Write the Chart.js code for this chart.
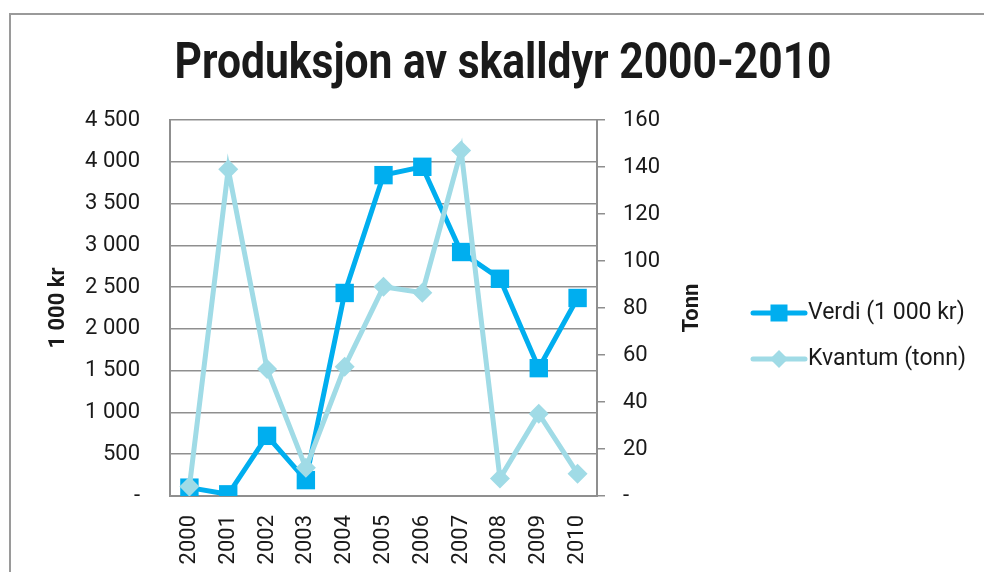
<!DOCTYPE html>
<html>
<head>
<meta charset="utf-8">
<script src="https://cdn.jsdelivr.net/npm/chart.js@4/dist/chart.umd.min.js"></script>
<style>
    html, body { margin: 0; padding: 0; background: #fff; overflow: hidden; }
    .frame { position: absolute; left: 9px; top: 13px; width: 1000px; height: 600px;
             border-left: 2px solid #9a9a9a; border-top: 2px solid #9a9a9a; }
    #wrap { position: absolute; left: 0; top: 0; width: 984px; height: 572px; }
</style>
</head>
<body>
<div class="frame"></div>
<div id="wrap"><canvas id="skalldyrChart" width="984" height="572"></canvas></div>
<script>
// =========================
// Produksjon av skalldyr
// =========================

// ========== DATA ==========
const years = ['2000', '2001', '2002', '2003', '2004', '2005', '2006', '2007', '2008', '2009', '2010'];
const verdi = [100, 20, 720, 190, 2430, 3840, 3940, 2920, 2600, 1530, 2370];
const kvantum = [4, 139, 54, 12, 55, 89, 86.5, 147, 7.5, 35, 9.5];
const verdiTicks = [0, 500, 1000, 1500, 2000, 2500, 3000, 3500, 4000, 4500];
const tonnTicks = [0, 20, 40, 60, 80, 100, 120, 140, 160];

const titleText = 'Produksjon av skalldyr 2000-2010';
const legendLabels = ['Verdi (1 000 kr)', 'Kvantum (tonn)'];

const blue = '#00aeef';
const lightBlue = '#a0dbe6';
const gridGray = '#8f8f8f';
const textColor = '#1a1a1a';
const fontFamily = 'Roboto, "DejaVu Sans", sans-serif';

function formatThousands(v) {
    if (v === 0) return '-';
    return String(v).replace(/\B(?=(\d{3})+(?!\d))/g, ' ');
}

// ========== EXTRA DRAWING (title, axis titles, legend) ==========
const decorPlugin = {
    id: 'decor',
    afterDraw(chart) {
        const ctx = chart.ctx;
        ctx.save();
        ctx.fillStyle = textColor;

        // title, squeezed a bit to look like the condensed original
        ctx.font = 'bold 50px ' + fontFamily;
        ctx.textBaseline = 'alphabetic';
        ctx.textAlign = 'left';
        const w = ctx.measureText(titleText).width;
        const targetW = 657;
        ctx.save();
        ctx.translate(503 - targetW / 2, 78);
        ctx.scale(targetW / w, 1);
        ctx.fillText(titleText, 0, 0);
        ctx.restore();

        // axis titles (both read bottom to top)
        ctx.font = 'bold 22px ' + fontFamily;
        ctx.textAlign = 'center';
        ctx.textBaseline = 'middle';
        [['1 000 kr', 58, 308], ['Tonn', 692, 308]].forEach(([txt, x, y]) => {
            ctx.save();
            ctx.translate(x, y);
            ctx.rotate(-Math.PI / 2);
            ctx.fillText(txt, 0, 0);
            ctx.restore();
        });

        // legend: line + marker + label
        const rows = [
            { y: 313, color: blue, shape: 'square', label: legendLabels[0] },
            { y: 359, color: lightBlue, shape: 'diamond', label: legendLabels[1] }
        ];
        rows.forEach(row => {
            ctx.strokeStyle = row.color;
            ctx.fillStyle = row.color;
            ctx.lineWidth = 5;
            ctx.lineCap = 'round';
            ctx.beginPath();
            ctx.moveTo(753, row.y);
            ctx.lineTo(805, row.y);
            ctx.stroke();
            ctx.beginPath();
            if (row.shape === 'square') {
                ctx.rect(779 - 8.5, row.y - 8.5, 17, 17);
            } else {
                ctx.moveTo(779, row.y - 9);
                ctx.lineTo(788, row.y);
                ctx.lineTo(779, row.y + 9);
                ctx.lineTo(770, row.y);
                ctx.closePath();
            }
            ctx.fill();
            ctx.fillStyle = textColor;
            ctx.font = '23px ' + fontFamily;
            ctx.textAlign = 'left';
            ctx.textBaseline = 'middle';
            ctx.fillText(row.label, 808, row.y);
        });
        ctx.restore();
    }
};

// ========== CHART ==========
const ctx = document.getElementById('skalldyrChart').getContext('2d');
new Chart(ctx, {
    type: 'line',
    data: {
        labels: years,
        datasets: [
            {
                label: legendLabels[0],
                data: verdi,
                yAxisID: 'y',
                borderColor: blue,
                backgroundColor: blue,
                borderWidth: 5,
                pointStyle: 'rect',
                pointRadius: 13,
                pointHoverRadius: 13,
                pointBorderWidth: 0,
                pointBackgroundColor: blue,
                tension: 0,
                order: 1
            },
            {
                label: legendLabels[1],
                data: kvantum,
                yAxisID: 'y1',
                borderColor: lightBlue,
                backgroundColor: lightBlue,
                borderWidth: 5,
                pointStyle: 'rectRot',
                pointRadius: 10,
                pointHoverRadius: 10,
                pointBorderWidth: 0,
                pointBackgroundColor: lightBlue,
                tension: 0,
                order: 0
            }
        ]
    },
    options: {
        responsive: false,
        animation: false,
        layout: { padding: { top: 120, left: 0, right: 0, bottom: 0 } },
        plugins: {
            legend: { display: false },
            title: { display: false },
            tooltip: { enabled: false }
        },
        scales: {
            x: {
                offset: true,
                grid: { display: true, drawOnChartArea: false, drawTicks: false },
                border: { display: true, color: gridGray, width: 2 },
                ticks: {
                    color: textColor,
                    font: { family: fontFamily, size: 22 },
                    minRotation: 90,
                    maxRotation: 90,
                    padding: 19,
                    autoSkip: false
                },
                afterFit: s => { s.height = 76; }
            },
            y: {
                position: 'left',
                min: 0,
                max: 4500,
                afterBuildTicks: s => { s.ticks = verdiTicks.map(v => ({ value: v })); },
                grid: { color: gridGray, lineWidth: 1.5, drawTicks: false },
                border: { display: true, color: gridGray, width: 2 },
                ticks: {
                    color: textColor,
                    font: { family: fontFamily, size: 22 },
                    padding: 30,
                    callback: v => formatThousands(v)
                },
                afterFit: s => { s.width = 170; }
            },
            y1: {
                position: 'right',
                min: 0,
                max: 160,
                afterBuildTicks: s => { s.ticks = tonnTicks.map(v => ({ value: v })); },
                grid: { drawOnChartArea: false, drawTicks: true, tickLength: 8, color: gridGray, lineWidth: 1.5 },
                border: { display: true, color: gridGray, width: 2 },
                ticks: {
                    color: textColor,
                    font: { family: fontFamily, size: 22 },
                    padding: 18,
                    callback: v => (v === 0 ? '-' : String(v))
                },
                afterFit: s => { s.width = 984 - 597; }
            }
        }
    },
    plugins: [decorPlugin]
});
</script>
</body>
</html>
